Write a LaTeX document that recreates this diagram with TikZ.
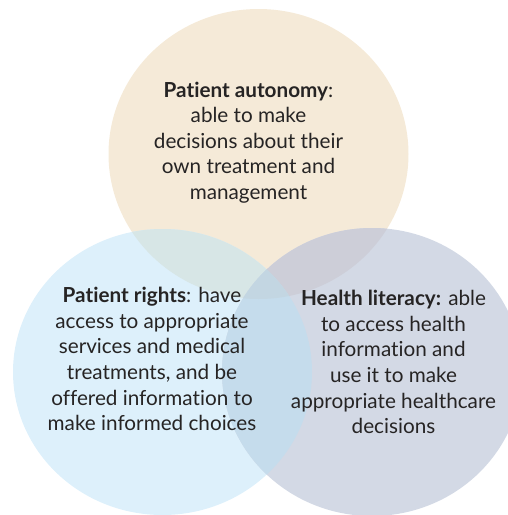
\documentclass[tikz,border=0pt]{standalone}
\usepackage{fontspec}
\setmainfont{Lato}[Ligatures=NoCommon]
\definecolor{cTop}{HTML}{F5EAD8}
\definecolor{cLeft}{HTML}{DDF0FB}
\definecolor{cRight}{HTML}{D3D9E5}
\definecolor{cTL}{HTML}{D7E6E6}
\definecolor{cTR}{HTML}{CDCED8}
\definecolor{cLR}{HTML}{C5DCEC}
\definecolor{cTLR}{HTML}{C3D6E2}
\definecolor{txt}{HTML}{262424}
\begin{document}
\begin{tikzpicture}[x=1pt,y=-1pt,
  blurb/.style={align=center,text=txt,inner sep=0pt,font=\fontsize{20.7}{25.6}\selectfont}]
\useasboundingbox (0,0) rectangle (508,515);
\def\pathT{(258.5,154) ellipse [x radius=150pt, y radius=145pt]}
\def\pathL{(162.5,372) ellipse [x radius=149.5pt, y radius=143pt]}
\def\pathR{(372,372) ellipse [x radius=150pt, y radius=144pt]}
\fill[cTop] \pathT;
\fill[cLeft] \pathL;
\fill[cRight] \pathR;
\begin{scope}\clip \pathT; \fill[cTL] \pathL; \end{scope}
\begin{scope}\clip \pathT; \fill[cTR] \pathR; \end{scope}
\begin{scope}\clip \pathL; \fill[cLR] \pathR; \end{scope}
\begin{scope}\clip \pathT; \clip \pathL; \fill[cTLR] \pathR; \end{scope}
\node[blurb] (t1) at (248.5,142.5) {\textbf{Patient autonomy}:\\able to make\\decisions about their\\own treatment and\\management};
\node[blurb] (t2) at (152,359) {\textbf{Patient rights}: have\\access to appropriate\\services and medical\\treatments, and be\\offered information to\\make informed choices};
\node[blurb] (t3) at (393.5,362) {\textbf{Health literacy:} able\\to access health\\information and\\use it to make\\appropriate healthcare\\decisions};
\end{tikzpicture}
\end{document}
